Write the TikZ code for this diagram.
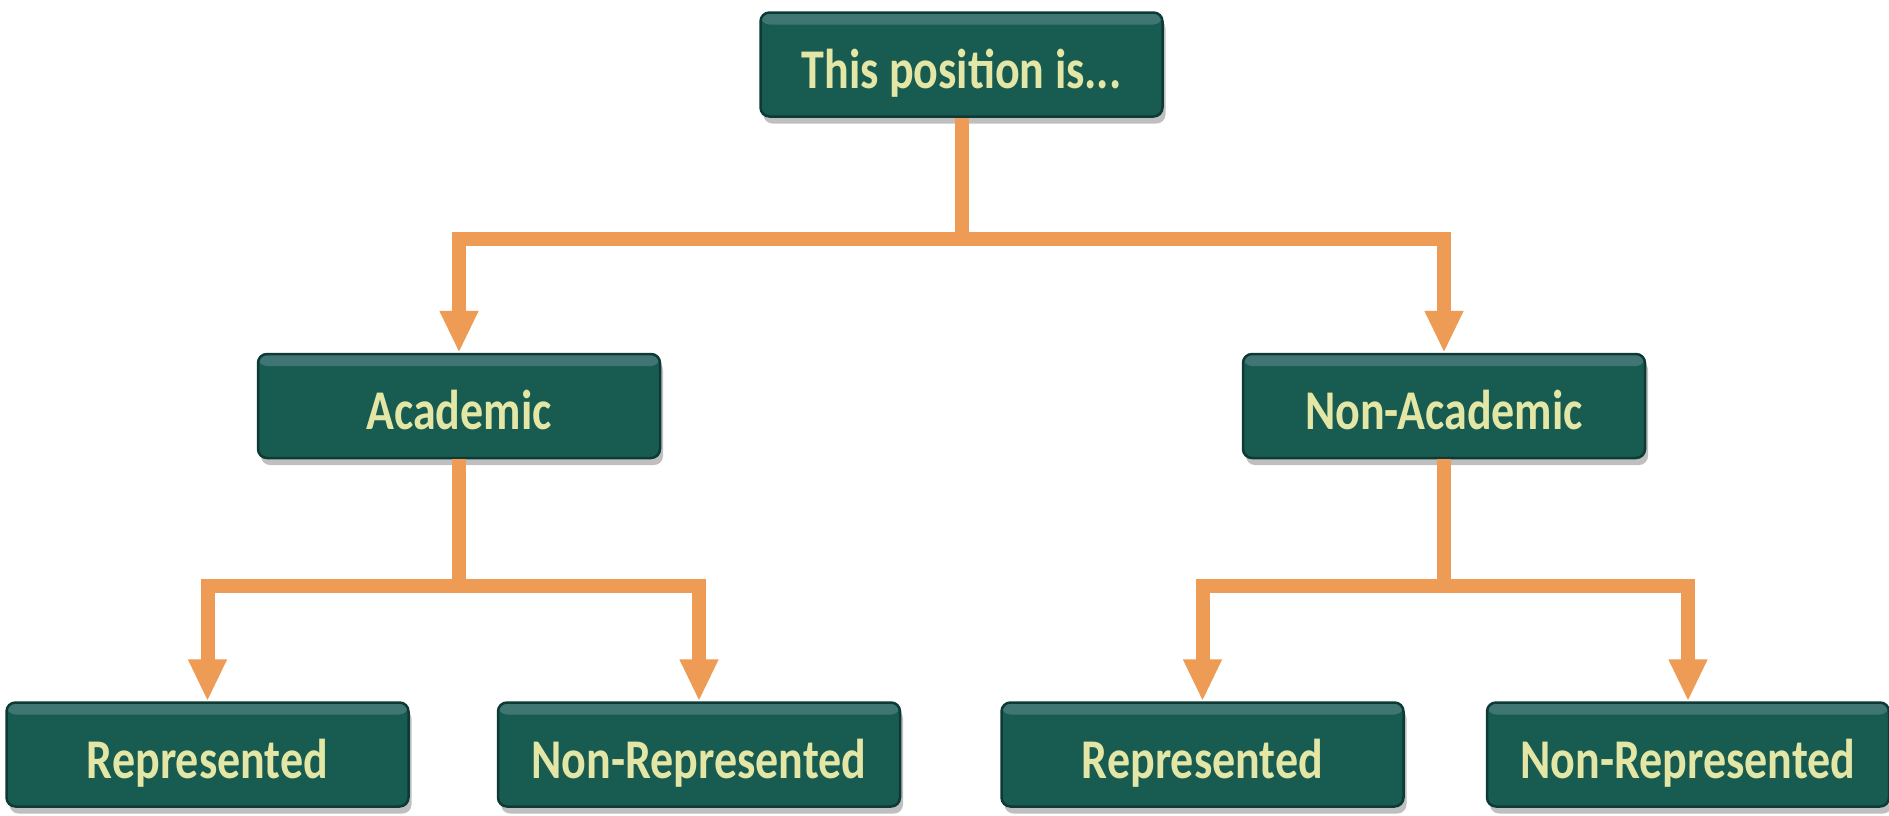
\documentclass[tikz,border=0pt]{standalone}
\usepackage{fontspec}
\usepackage{graphicx}
\setmainfont{Carlito}
\usetikzlibrary{arrows.meta,shadows}

\definecolor{boxfill}{HTML}{175B51}
\definecolor{boxedge}{HTML}{0E3A35}
\definecolor{boxhi}{HTML}{3F7674}
\definecolor{labeltext}{HTML}{E4E6A6}
\definecolor{linkorange}{HTML}{EE9B55}

% labels are set a little taller than the font's natural shape
\newcommand{\tallword}[1]{\scalebox{1}[1.22]{#1}}

\begin{document}
\begin{tikzpicture}[x=1pt,y=-1pt,
  posbox/.style={rectangle, rounded corners=9pt, fill=boxfill, draw=boxedge,
    line width=2.5pt, minimum width=402pt, minimum height=104pt, inner sep=0pt,
    text=labeltext, font=\fontsize{46}{50}\selectfont\bfseries,
    text height=52pt, text depth=5pt,
    drop shadow={shadow xshift=3pt, shadow yshift=-7pt, fill=black, opacity=0.25},
    path picture={\fill[boxhi]
      (path picture bounding box.north west) rectangle
      ([yshift=-12pt]path picture bounding box.north east);}},
  link/.style={draw=linkorange, line width=14pt},
  tip/.style={-{Triangle[width=36pt,length=42pt]}}
]
\fill[white] (0,0) rectangle (1889,815);
\useasboundingbox (0,0) rectangle (1889,815);

% boxes
\node[posbox] (top)     at (961.5,64.5)  {\tallword{This position is...}};
\node[posbox] (acad)    at (459,406)     {\tallword{Academic}};
\node[posbox] (nonacad) at (1444,406)    {\tallword{Non-Academic}};
\node[posbox] (rep1)    at (207.5,754.5) {\tallword{Represented}};
\node[posbox] (nrep1)   at (699,754.5)   {\tallword{Non-Represented}};
\node[posbox] (rep2)    at (1202.5,754.5){\tallword{Represented}};
\node[posbox] (nrep2)   at (1688,754.5)  {\tallword{Non-Represented}};

% branch points
\coordinate (split1) at (top.south |- 0,239);
\coordinate (split2) at (acad.south |- 0,586);
\coordinate (split3) at (nonacad.south |- 0,586);

% connectors
\draw[link] (top.south) -- (split1);
\draw[link,tip] (split1) -| (acad.north);
\draw[link,tip] (split1) -| (nonacad.north);

\draw[link] (acad.south) -- (split2);
\draw[link,tip] (split2) -| (rep1.north);
\draw[link,tip] (split2) -| (nrep1.north);

\draw[link] (nonacad.south) -- (split3);
\draw[link,tip] (split3) -| (rep2.north);
\draw[link,tip] (split3) -| (nrep2.north);
\end{tikzpicture}
\end{document}
